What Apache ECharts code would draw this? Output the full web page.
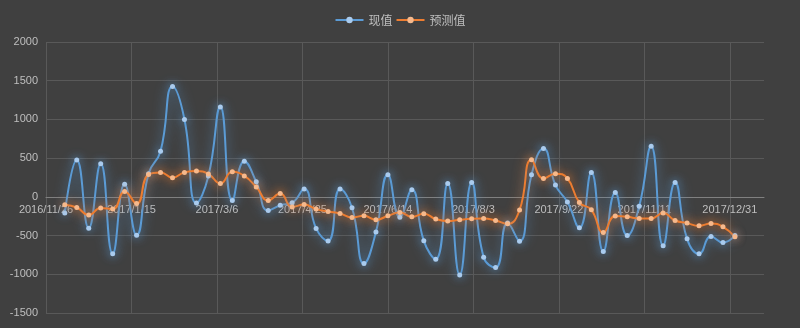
<!DOCTYPE html>
<html>
<head>
<meta charset="utf-8">
<script src="https://cdn.jsdelivr.net/npm/echarts@6/dist/echarts.min.js"></script>
<style>
  html, body { margin: 0; padding: 0; background: #404040; }
  #chart { width: 800px; height: 328px; }
</style>
</head>
<body>
<div id="chart"></div>
<script>
// ---- data ----
const dates = [
  '2016/12/7','2016/12/14','2016/12/21','2016/12/28','2017/1/4','2017/1/11','2017/1/18','2017/1/25',
  '2017/2/1','2017/2/8','2017/2/15','2017/2/22','2017/3/1','2017/3/8','2017/3/15','2017/3/22',
  '2017/3/29','2017/4/5','2017/4/12','2017/4/19','2017/4/26','2017/5/3','2017/5/10','2017/5/17',
  '2017/5/24','2017/5/31','2017/6/7','2017/6/14','2017/6/21','2017/6/28','2017/7/5','2017/7/12',
  '2017/7/19','2017/7/26','2017/8/2','2017/8/9','2017/8/16','2017/8/23','2017/8/30','2017/9/6',
  '2017/9/13','2017/9/20','2017/9/27','2017/10/4','2017/10/11','2017/10/18','2017/10/25','2017/11/1',
  '2017/11/8','2017/11/15','2017/11/22','2017/11/29','2017/12/6','2017/12/13','2017/12/20','2017/12/27',
  '2018/1/3'
];
const actual = [
  -210, 476, -405, 428, -736, 163, -495, 300,
  590, 1425, 1000, -80, 270, 1162, -48, 460,
  195, -176, -110, -76, 101, -408, -570, 101,
  -141, -860, -454, 286, -262, 92, -568, -805,
  171, -1010, 186, -779, -913, -339, -572, 286,
  626, 152, -67, -400, 316, -706, 57, -499,
  -120, 652, -633, 186, -542, -736, -512, -590,
  -499
];
const forecast = [
  -102, -138, -234, -143, -158, 68, -87, 290,
  316, 247, 316, 333, 295, 173, 323, 270,
  127, -46, 42, -130, -100, -158, -189, -215,
  -266, -245, -296, -245, -202, -257, -219, -287,
  -313, -296, -283, -279, -305, -348, -170, 480,
  238, 299, 238, -72, -167, -461, -248, -257,
  -279, -279, -210, -305, -339, -374, -344, -387,
  -516
];
const xTickLabels = ['2016/11/26','2017/1/15','2017/3/6','2017/4/25','2017/6/14','2017/8/3','2017/9/22','2017/11/11','2017/12/31'];
const seriesNames = ['现值', '预测值'];
const yMin = -1500, yMax = 2000, yStep = 500;

// ---- helpers ----
function dayNum(s) {
  const p = s.split('/').map(Number);
  return Date.UTC(p[0], p[1] - 1, p[2]) / 86400000;
}
const base = dayNum(xTickLabels[0]);
const tickStep = dayNum(xTickLabels[1]) - base;
const xs = dates.map(d => dayNum(d) - base);

const chart = echarts.init(document.getElementById('chart'), null, { renderer: 'canvas' });
const axisFont = "'Liberation Sans', Arial, sans-serif";
const textColor = '#bfbfbf';
const gridColor = '#595959';

function mkSeries(name, vals, lineColor, dotColor, glow) {
  return {
    name: name,
    type: 'line',
    smooth: true,
    data: xs.map((x, i) => [x, vals[i]]),
    symbol: 'circle',
    symbolSize: 5,
    showSymbol: true,
    lineStyle: { color: lineColor, width: 2, shadowBlur: 12, shadowColor: glow },
    itemStyle: { color: dotColor, borderWidth: 0, shadowBlur: 8, shadowColor: glow },
    emphasis: { disabled: true },
    animation: false
  };
}

chart.setOption({
  backgroundColor: '#404040',
  animation: false,
  legend: {
    top: 9,
    left: 'center',
    itemWidth: 28,
    itemHeight: 8,
    itemGap: 3,
    textStyle: { color: textColor, fontSize: 12, fontFamily: "'Noto Sans CJK SC', sans-serif" },
    data: seriesNames
  },
  grid: { left: 46, right: 36, top: 42, bottom: 15, containLabel: false, outerBoundsMode: 'none' },
  xAxis: {
    type: 'value',
    min: 0,
    max: 420,
    interval: tickStep,
    axisLine: { show: true, onZero: false, lineStyle: { color: '#808080', width: 1 } },
    axisTick: { show: false },
    axisLabel: {
      color: textColor,
      fontSize: 11,
      fontFamily: axisFont,
      margin: 8,
      showMaxLabel: false,
      formatter: function (v) {
        const k = Math.round(v / tickStep);
        return (Math.abs(k * tickStep - v) < 1e-6 && k < xTickLabels.length) ? xTickLabels[k] : '';
      }
    },
    splitLine: { show: true, showMaxLine: false, lineStyle: { color: gridColor, width: 1 } }
  },
  yAxis: {
    type: 'value',
    min: yMin,
    max: yMax,
    interval: yStep,
    axisLine: { show: false, onZero: false },
    axisTick: { show: false },
    axisLabel: {
      color: textColor, fontSize: 11, fontFamily: axisFont, margin: 8,
      formatter: function (v) { return String(v); }
    },
    splitLine: { show: true, lineStyle: { color: gridColor, width: 1 } }
  },
  series: [
    mkSeries(seriesNames[0], actual, '#5b9bd5', '#a9cbee', 'rgba(91,155,213,0.95)'),
    mkSeries(seriesNames[1], forecast, '#ed7d31', '#f6b98c', 'rgba(237,125,49,0.95)')
  ]
});

// Place the x axis (line + labels) on y = 0, using the y scale.
(function () {
  const zeroPx = chart.convertToPixel({ yAxisIndex: 0 }, 0);
  const bottomPx = chart.convertToPixel({ yAxisIndex: 0 }, yMin);
  chart.setOption({ xAxis: { offset: -(bottomPx - zeroPx) } });
})();
</script>
</body>
</html>
